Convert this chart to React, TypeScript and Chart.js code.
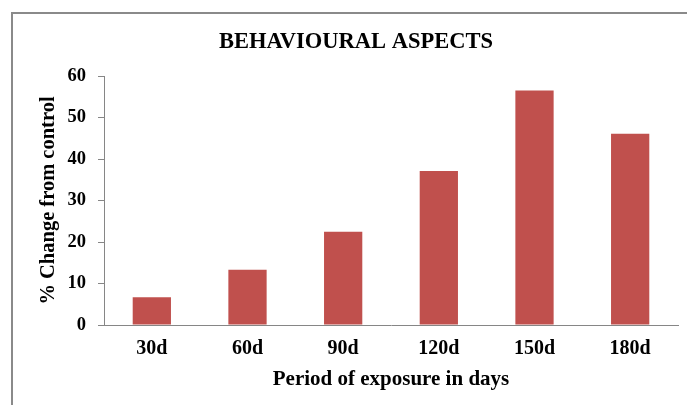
import React, { useEffect, useRef } from "react";
import { Chart, registerables } from "chart.js";

Chart.register(...registerables);

const chartTitle = "BEHAVIOURAL ASPECTS";
const categories = ["30d", "60d", "90d", "120d", "150d", "180d"];
const changeValues = [6.7, 13.3, 22.5, 37.1, 56.5, 46.1];
const yTitle = "% Change from control";
const xTitle = "Period of exposure in days";
const yMin = 0;
const yMax = 60;
const yStep = 10;

const SERIF = '"Liberation Serif", "Times New Roman", serif';
const AXIS_GRAY = "#868686";

const framePlugin = {
  id: "frameAndTitle",
  afterDraw(chart: any) {
    const ctx = chart.ctx;
    ctx.save();
    // outer frame (left + top edges visible)
    ctx.strokeStyle = "#8a8a8a";
    ctx.lineWidth = 2;
    ctx.beginPath();
    ctx.moveTo(12, chart.height);
    ctx.lineTo(12, 13);
    ctx.lineTo(chart.width, 13);
    ctx.stroke();
    // title
    ctx.fillStyle = "#000";
    ctx.font = `bold 22.5px ${SERIF}`;
    ctx.textAlign = "center";
    ctx.textBaseline = "alphabetic";
    ctx.fillText(chartTitle, 356, 48);
    ctx.restore();
  },
};

export default function App() {
  const canvasRef = useRef<HTMLCanvasElement | null>(null);

  useEffect(() => {
    document.body.style.margin = "0";
    const canvas = canvasRef.current;
    if (!canvas) return;
    const chart = new Chart(canvas, {
      type: "bar",
      data: {
        labels: categories,
        datasets: [
          {
            label: chartTitle,
            data: changeValues,
            backgroundColor: "#C0504D",
            borderWidth: 0,
            barPercentage: 0.4,
            categoryPercentage: 1.0,
          },
        ],
      },
      options: {
        responsive: false,
        animation: false,
        devicePixelRatio: 1,
        layout: { padding: { top: 76, right: 9, bottom: 0, left: 0 } },
        plugins: {
          legend: { display: false },
          tooltip: { enabled: false },
          title: { display: false },
        },
        scales: {
          x: {
            afterFit(scale: any) {
              scale.height = 80;
            },
            grid: { display: false, drawTicks: false },
            border: { display: true, color: AXIS_GRAY, width: 1 },
            ticks: {
              color: "#000",
              padding: 12,
              font: { family: SERIF, size: 20, weight: "bold" },
            },
            title: {
              display: true,
              text: xTitle,
              color: "#000",
              font: { family: SERIF, size: 21, weight: "bold" },
              padding: { top: 0, bottom: 13 },
            },
          },
          y: {
            min: yMin,
            max: yMax,
            afterFit(scale: any) {
              scale.width = 104;
            },
            grid: {
              display: true,
              drawOnChartArea: false,
              drawTicks: true,
              tickLength: 6,
              color: AXIS_GRAY,
              tickColor: AXIS_GRAY,
            },
            border: { display: true, color: AXIS_GRAY, width: 1 },
            ticks: {
              stepSize: yStep,
              color: "#000",
              padding: 12,
              font: { family: SERIF, size: 18.5, weight: "bold" },
            },
            title: {
              display: true,
              text: yTitle,
              color: "#000",
              font: { family: SERIF, size: 20.5, weight: "bold" },
              padding: { top: 36, bottom: 0 },
            },
          },
        },
      },
      plugins: [framePlugin],
    });
    return () => chart.destroy();
  }, []);

  return (
    <div style={{ width: 687, height: 405, position: "relative", background: "#fff" }}>
      <canvas ref={canvasRef} width={687} height={405} style={{ display: "block" }} />
    </div>
  );
}
